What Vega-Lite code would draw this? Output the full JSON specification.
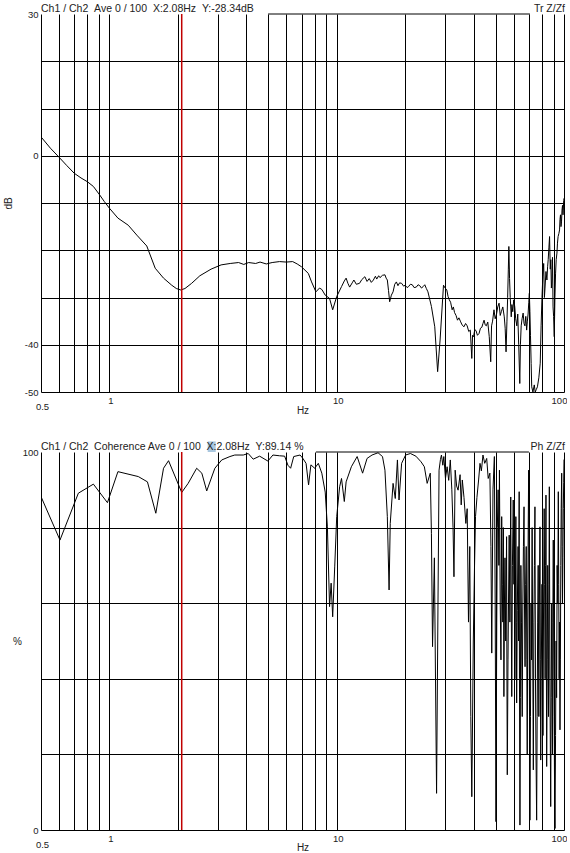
{
  "$schema": "https://vega.github.io/schema/vega-lite/v6.json",
  "padding": {"left": 3, "top": 4, "right": 0, "bottom": 0},
  "bounds": "flush",
  "spacing": 60,
  "config": {
    "view": {"stroke": null},
    "font": "Liberation Sans",
    "axis": {
      "grid": true, "gridColor": "black", "gridWidth": 1, "gridOpacity": 1,
      "ticks": false, "domain": false, "labelOverlap": false, "labelFlush": false,
      "labelFont": "Liberation Sans", "labelFontSize": 9.5, "labelColor": "#222",
      "titleFont": "Liberation Sans", "titleFontSize": 10, "titleFontWeight": "normal", "titleColor": "#222"
    }
  },
  "datasets": {
    "top": [
      {"f": 0.5, "db": 4.0}, {"f": 0.55, "db": 1.6}, {"f": 0.6, "db": -0.3}, {"f": 0.65, "db": -2.1},
      {"f": 0.7, "db": -3.7}, {"f": 0.75, "db": -4.7}, {"f": 0.8, "db": -5.5}, {"f": 0.85, "db": -6.5},
      {"f": 0.9, "db": -8.1}, {"f": 0.95, "db": -9.7}, {"f": 1.0, "db": -11.1}, {"f": 1.09, "db": -13.2},
      {"f": 1.21, "db": -14.7}, {"f": 1.32, "db": -16.8}, {"f": 1.46, "db": -19.1}, {"f": 1.59, "db": -23.8},
      {"f": 1.73, "db": -25.9}, {"f": 1.88, "db": -27.4}, {"f": 1.97, "db": -28.1}, {"f": 2.06, "db": -28.4},
      {"f": 2.15, "db": -28.1}, {"f": 2.3, "db": -27.0}, {"f": 2.5, "db": -25.4}, {"f": 2.8, "db": -24.0},
      {"f": 3.1, "db": -23.1}, {"f": 3.4, "db": -22.8}, {"f": 3.7, "db": -22.6}, {"f": 3.9, "db": -23.0},
      {"f": 4.1, "db": -22.6}, {"f": 4.4, "db": -22.8}, {"f": 4.6, "db": -22.5}, {"f": 4.9, "db": -22.9},
      {"f": 5.2, "db": -22.6}, {"f": 5.6, "db": -22.4}, {"f": 6.0, "db": -22.5}, {"f": 6.4, "db": -22.4},
      {"f": 6.7, "db": -22.9}, {"f": 7.0, "db": -23.5}, {"f": 7.5, "db": -24.9}, {"f": 7.75, "db": -26.7},
      {"f": 8.1, "db": -28.8}, {"f": 8.4, "db": -28.0}, {"f": 8.6, "db": -28.3}, {"f": 8.9, "db": -29.5},
      {"f": 9.3, "db": -30.2}, {"f": 9.6, "db": -32.6}, {"f": 10.0, "db": -29.8}, {"f": 10.5, "db": -27.7},
      {"f": 10.8, "db": -26.5}, {"f": 11.0, "db": -25.9}, {"f": 11.2, "db": -27.0}, {"f": 11.4, "db": -27.8},
      {"f": 11.7, "db": -26.9}, {"f": 11.9, "db": -26.3}, {"f": 12.2, "db": -27.2}, {"f": 12.6, "db": -27.0},
      {"f": 12.9, "db": -26.2}, {"f": 13.3, "db": -25.6}, {"f": 13.6, "db": -26.6}, {"f": 13.9, "db": -26.0},
      {"f": 14.2, "db": -26.8}, {"f": 14.5, "db": -26.3}, {"f": 14.8, "db": -25.5}, {"f": 15.0, "db": -26.1},
      {"f": 15.3, "db": -25.4}, {"f": 15.5, "db": -25.8}, {"f": 15.9, "db": -25.3}, {"f": 16.3, "db": -25.2},
      {"f": 16.5, "db": -25.9}, {"f": 16.7, "db": -26.3}, {"f": 16.9, "db": -28.5}, {"f": 17.1, "db": -30.9},
      {"f": 17.4, "db": -29.5}, {"f": 17.7, "db": -28.8}, {"f": 18.0, "db": -27.2}, {"f": 18.3, "db": -26.7},
      {"f": 18.6, "db": -27.5}, {"f": 18.9, "db": -26.9}, {"f": 19.3, "db": -27.0}, {"f": 19.7, "db": -27.6},
      {"f": 20.0, "db": -27.4}, {"f": 20.4, "db": -27.9}, {"f": 20.7, "db": -27.7}, {"f": 21.1, "db": -27.2},
      {"f": 21.5, "db": -27.3}, {"f": 21.9, "db": -27.9}, {"f": 22.4, "db": -27.8}, {"f": 22.8, "db": -27.3},
      {"f": 23.2, "db": -27.5}, {"f": 23.6, "db": -28.0}, {"f": 24.0, "db": -27.7}, {"f": 24.4, "db": -27.3},
      {"f": 24.8, "db": -28.1}, {"f": 25.2, "db": -28.8}, {"f": 26.1, "db": -31.9}, {"f": 27.0, "db": -36.2},
      {"f": 27.8, "db": -45.7}, {"f": 28.5, "db": -39.0}, {"f": 29.5, "db": -27.4}, {"f": 30.0, "db": -28.0},
      {"f": 30.5, "db": -28.4}, {"f": 30.9, "db": -29.8}, {"f": 31.3, "db": -30.5}, {"f": 31.7, "db": -31.0},
      {"f": 32.2, "db": -32.6}, {"f": 32.6, "db": -32.0}, {"f": 33.0, "db": -33.2}, {"f": 33.5, "db": -33.8},
      {"f": 34.0, "db": -34.8}, {"f": 34.5, "db": -34.3}, {"f": 35.0, "db": -35.0}, {"f": 35.6, "db": -35.8},
      {"f": 36.3, "db": -36.2}, {"f": 36.9, "db": -35.5}, {"f": 37.5, "db": -36.0}, {"f": 38.1, "db": -37.2},
      {"f": 38.7, "db": -36.9}, {"f": 39.3, "db": -42.9}, {"f": 39.6, "db": -38.0}, {"f": 40.0, "db": -38.3},
      {"f": 40.5, "db": -36.8}, {"f": 41.0, "db": -37.0}, {"f": 41.6, "db": -38.0}, {"f": 42.3, "db": -37.6},
      {"f": 42.9, "db": -36.5}, {"f": 43.5, "db": -36.3}, {"f": 44.0, "db": -35.5}, {"f": 44.5, "db": -34.8},
      {"f": 45.0, "db": -35.8}, {"f": 45.5, "db": -36.0}, {"f": 46.2, "db": -35.2}, {"f": 46.9, "db": -38.3},
      {"f": 47.6, "db": -43.6}, {"f": 48.0, "db": -36.0}, {"f": 48.5, "db": -35.0}, {"f": 49.2, "db": -32.6},
      {"f": 49.8, "db": -34.5}, {"f": 50.5, "db": -33.5}, {"f": 51.1, "db": -32.0}, {"f": 51.8, "db": -31.2},
      {"f": 52.4, "db": -33.8}, {"f": 53.0, "db": -33.0}, {"f": 53.8, "db": -32.0}, {"f": 54.6, "db": -34.1},
      {"f": 55.1, "db": -36.5}, {"f": 55.6, "db": -41.5}, {"f": 56.1, "db": -35.0}, {"f": 56.5, "db": -30.0},
      {"f": 56.9, "db": -24.0}, {"f": 57.2, "db": -19.2}, {"f": 57.6, "db": -26.0}, {"f": 58.0, "db": -30.0},
      {"f": 58.3, "db": -32.0}, {"f": 58.6, "db": -34.1}, {"f": 59.0, "db": -31.5}, {"f": 59.5, "db": -33.0},
      {"f": 60.1, "db": -30.5}, {"f": 60.7, "db": -31.9}, {"f": 61.3, "db": -34.5}, {"f": 62.0, "db": -36.0},
      {"f": 62.6, "db": -33.5}, {"f": 63.2, "db": -40.0}, {"f": 63.9, "db": -48.2}, {"f": 64.3, "db": -40.0},
      {"f": 64.8, "db": -36.0}, {"f": 65.4, "db": -34.5}, {"f": 66.1, "db": -33.3}, {"f": 66.7, "db": -35.5},
      {"f": 67.3, "db": -36.0}, {"f": 67.9, "db": -34.0}, {"f": 68.5, "db": -36.9}, {"f": 69.0, "db": -35.0},
      {"f": 69.5, "db": -33.5}, {"f": 70.0, "db": -31.0}, {"f": 70.4, "db": -29.1}, {"f": 70.8, "db": -33.0},
      {"f": 71.2, "db": -38.0}, {"f": 71.7, "db": -44.0}, {"f": 72.1, "db": -48.9}, {"f": 73.0, "db": -50.0},
      {"f": 74.0, "db": -48.5}, {"f": 74.7, "db": -50.0}, {"f": 75.5, "db": -49.5}, {"f": 76.4, "db": -48.9},
      {"f": 77.5, "db": -47.0}, {"f": 78.6, "db": -43.9}, {"f": 79.3, "db": -36.0}, {"f": 80.0, "db": -30.0},
      {"f": 80.7, "db": -25.5}, {"f": 81.4, "db": -22.8}, {"f": 82.0, "db": -30.0}, {"f": 82.5, "db": -28.0},
      {"f": 83.3, "db": -24.5}, {"f": 84.1, "db": -26.3}, {"f": 84.7, "db": -23.5}, {"f": 85.2, "db": -22.0},
      {"f": 85.8, "db": -19.5}, {"f": 86.4, "db": -17.1}, {"f": 87.0, "db": -24.0}, {"f": 87.5, "db": -22.0},
      {"f": 88.0, "db": -28.0}, {"f": 88.5, "db": -26.3}, {"f": 89.0, "db": -21.5}, {"f": 89.5, "db": -32.0},
      {"f": 90.0, "db": -34.0}, {"f": 90.6, "db": -38.3}, {"f": 91.2, "db": -30.0}, {"f": 91.8, "db": -25.0},
      {"f": 92.4, "db": -22.0}, {"f": 93.1, "db": -20.6}, {"f": 93.6, "db": -18.5}, {"f": 94.2, "db": -17.1},
      {"f": 94.9, "db": -16.5}, {"f": 95.6, "db": -15.7}, {"f": 96.0, "db": -13.5}, {"f": 96.5, "db": -12.5},
      {"f": 97.0, "db": -15.0}, {"f": 97.5, "db": -14.0}, {"f": 98.0, "db": -11.5}, {"f": 98.5, "db": -10.5},
      {"f": 99.0, "db": -12.5}, {"f": 99.3, "db": -11.5}, {"f": 99.7, "db": -9.5}, {"f": 100, "db": -9.0}
    ],
    "bottom": [
      {"f": 0.5, "pct": 88.2}, {"f": 0.606, "pct": 76.7}, {"f": 0.73, "pct": 89.1}, {"f": 0.85, "pct": 91.5},
      {"f": 0.98, "pct": 86.6}, {"f": 1.09, "pct": 94.8}, {"f": 1.34, "pct": 93.5}, {"f": 1.47, "pct": 92.1},
      {"f": 1.6, "pct": 83.8}, {"f": 1.73, "pct": 95.7}, {"f": 1.82, "pct": 97.7}, {"f": 2.08, "pct": 89.3},
      {"f": 2.22, "pct": 91.7}, {"f": 2.42, "pct": 95.7}, {"f": 2.55, "pct": 94.4}, {"f": 2.68, "pct": 89.7},
      {"f": 2.91, "pct": 95.7}, {"f": 3.12, "pct": 97.9}, {"f": 3.39, "pct": 98.8}, {"f": 3.56, "pct": 99.2},
      {"f": 3.88, "pct": 99.2}, {"f": 4.08, "pct": 99.6}, {"f": 4.29, "pct": 98.1}, {"f": 4.58, "pct": 98.9},
      {"f": 4.98, "pct": 97.6}, {"f": 5.24, "pct": 99.2}, {"f": 5.6, "pct": 99.0}, {"f": 5.9, "pct": 98.9},
      {"f": 6.1, "pct": 96.5}, {"f": 6.27, "pct": 95.7}, {"f": 6.47, "pct": 98.8}, {"f": 6.9, "pct": 99.2},
      {"f": 7.1, "pct": 98.3}, {"f": 7.33, "pct": 97.0}, {"f": 7.52, "pct": 91.3}, {"f": 7.7, "pct": 96.6},
      {"f": 8.0, "pct": 95.7}, {"f": 8.3, "pct": 97.0}, {"f": 8.6, "pct": 94.4}, {"f": 8.9, "pct": 89.4},
      {"f": 9.1, "pct": 80.2}, {"f": 9.3, "pct": 59.1}, {"f": 9.45, "pct": 65.3}, {"f": 9.6, "pct": 56.4},
      {"f": 9.8, "pct": 69.6}, {"f": 10.0, "pct": 82.9}, {"f": 10.3, "pct": 90.8}, {"f": 10.5, "pct": 93.0},
      {"f": 10.8, "pct": 86.9}, {"f": 11.0, "pct": 92.1}, {"f": 11.6, "pct": 96.1}, {"f": 12.3, "pct": 98.8},
      {"f": 13.0, "pct": 94.4}, {"f": 13.6, "pct": 98.3}, {"f": 14.3, "pct": 99.2}, {"f": 15.2, "pct": 99.8},
      {"f": 15.9, "pct": 98.8}, {"f": 16.3, "pct": 95.2}, {"f": 16.7, "pct": 82.9}, {"f": 17.0, "pct": 63.5},
      {"f": 17.2, "pct": 81.1}, {"f": 17.7, "pct": 91.7}, {"f": 18.1, "pct": 87.7}, {"f": 18.5, "pct": 97.9},
      {"f": 18.8, "pct": 87.3}, {"f": 19.3, "pct": 97.0}, {"f": 20.1, "pct": 99.2}, {"f": 21.1, "pct": 99.6},
      {"f": 22.3, "pct": 98.9}, {"f": 23.5, "pct": 97.4}, {"f": 24.3, "pct": 96.1}, {"f": 25.0, "pct": 91.7},
      {"f": 25.8, "pct": 94.4}, {"f": 26.1, "pct": 78.5}, {"f": 26.4, "pct": 48.5}, {"f": 26.9, "pct": 72.0},
      {"f": 27.5, "pct": 9.7}, {"f": 27.9, "pct": 60.0}, {"f": 28.2, "pct": 95.2}, {"f": 28.6, "pct": 98.0},
      {"f": 28.9, "pct": 99.2}, {"f": 29.3, "pct": 96.5}, {"f": 29.6, "pct": 98.8}, {"f": 30.1, "pct": 93.0},
      {"f": 30.6, "pct": 96.1}, {"f": 31.1, "pct": 92.5}, {"f": 31.6, "pct": 97.9}, {"f": 32.1, "pct": 90.0},
      {"f": 32.5, "pct": 80.0}, {"f": 32.8, "pct": 67.0}, {"f": 33.2, "pct": 95.2}, {"f": 33.7, "pct": 91.0},
      {"f": 34.2, "pct": 89.9}, {"f": 34.9, "pct": 94.0}, {"f": 35.3, "pct": 86.0}, {"f": 35.7, "pct": 92.6},
      {"f": 36.3, "pct": 88.0}, {"f": 37.0, "pct": 81.1}, {"f": 37.5, "pct": 85.0}, {"f": 38.0, "pct": 55.0},
      {"f": 38.5, "pct": 75.0}, {"f": 38.9, "pct": 30.0}, {"f": 39.3, "pct": 8.8}, {"f": 39.9, "pct": 50.0},
      {"f": 40.4, "pct": 70.0}, {"f": 40.8, "pct": 82.9}, {"f": 41.4, "pct": 88.0}, {"f": 42.1, "pct": 92.6},
      {"f": 42.7, "pct": 97.0}, {"f": 43.3, "pct": 95.0}, {"f": 44.0, "pct": 99.2}, {"f": 44.8, "pct": 97.0},
      {"f": 45.7, "pct": 98.3}, {"f": 46.4, "pct": 93.0}, {"f": 47.2, "pct": 94.4}, {"f": 47.7, "pct": 75.0},
      {"f": 48.1, "pct": 46.8}, {"f": 48.7, "pct": 90.0}, {"f": 49.4, "pct": 98.8}, {"f": 49.8, "pct": 60.0},
      {"f": 50.2, "pct": 2.2}, {"f": 50.6, "pct": 55.0}, {"f": 50.9, "pct": 80.0}, {"f": 51.3, "pct": 90.0},
      {"f": 51.7, "pct": 70.0}, {"f": 52.0, "pct": 95.2}, {"f": 52.4, "pct": 60.0}, {"f": 52.8, "pct": 45.0},
      {"f": 53.2, "pct": 82.9}, {"f": 53.5, "pct": 65.0}, {"f": 53.8, "pct": 55.0}, {"f": 54.1, "pct": 80.0},
      {"f": 54.4, "pct": 35.3}, {"f": 54.7, "pct": 60.0}, {"f": 55.0, "pct": 72.0}, {"f": 55.4, "pct": 50.0},
      {"f": 55.9, "pct": 77.6}, {"f": 56.1, "pct": 40.0}, {"f": 56.3, "pct": 14.6}, {"f": 56.7, "pct": 45.0},
      {"f": 57.0, "pct": 60.0}, {"f": 57.4, "pct": 78.0}, {"f": 57.8, "pct": 55.0}, {"f": 58.3, "pct": 88.1},
      {"f": 58.6, "pct": 60.0}, {"f": 58.9, "pct": 35.3}, {"f": 59.3, "pct": 70.0}, {"f": 59.8, "pct": 87.3},
      {"f": 60.2, "pct": 65.0}, {"f": 60.5, "pct": 78.0}, {"f": 60.8, "pct": 40.0}, {"f": 61.1, "pct": 60.0},
      {"f": 61.4, "pct": 82.9}, {"f": 61.7, "pct": 55.0}, {"f": 61.9, "pct": 33.6}, {"f": 62.3, "pct": 58.0},
      {"f": 62.8, "pct": 75.0}, {"f": 63.1, "pct": 50.0}, {"f": 63.5, "pct": 89.5}, {"f": 63.7, "pct": 40.0},
      {"f": 64.0, "pct": 1.3}, {"f": 64.3, "pct": 35.0}, {"f": 64.6, "pct": 70.0}, {"f": 65.0, "pct": 55.0},
      {"f": 65.5, "pct": 30.0}, {"f": 65.9, "pct": 60.0}, {"f": 66.3, "pct": 75.0}, {"f": 66.7, "pct": 85.5},
      {"f": 67.0, "pct": 60.0}, {"f": 67.4, "pct": 43.2}, {"f": 67.8, "pct": 65.0}, {"f": 68.2, "pct": 75.0},
      {"f": 68.6, "pct": 45.0}, {"f": 68.9, "pct": 20.0}, {"f": 69.3, "pct": 60.0}, {"f": 69.6, "pct": 80.0},
      {"f": 69.9, "pct": 95.2}, {"f": 70.3, "pct": 50.0}, {"f": 70.8, "pct": 2.6}, {"f": 71.2, "pct": 30.0},
      {"f": 71.6, "pct": 60.0}, {"f": 72.0, "pct": 45.0}, {"f": 72.4, "pct": 80.0}, {"f": 72.8, "pct": 50.0},
      {"f": 73.3, "pct": 15.9}, {"f": 73.7, "pct": 55.0}, {"f": 74.1, "pct": 70.0}, {"f": 74.5, "pct": 85.5},
      {"f": 74.9, "pct": 40.0}, {"f": 75.3, "pct": 20.0}, {"f": 75.8, "pct": 2.6}, {"f": 76.2, "pct": 30.0},
      {"f": 76.6, "pct": 55.0}, {"f": 77.0, "pct": 70.0}, {"f": 77.5, "pct": 30.0}, {"f": 77.9, "pct": 60.0},
      {"f": 78.4, "pct": 80.2}, {"f": 78.7, "pct": 45.0}, {"f": 79.0, "pct": 18.5}, {"f": 79.4, "pct": 40.0},
      {"f": 80.0, "pct": 65.0}, {"f": 80.4, "pct": 45.0}, {"f": 80.8, "pct": 25.0}, {"f": 81.3, "pct": 60.0},
      {"f": 81.8, "pct": 85.0}, {"f": 82.2, "pct": 65.0}, {"f": 82.6, "pct": 40.0}, {"f": 83.0, "pct": 70.0},
      {"f": 83.3, "pct": 88.6}, {"f": 83.6, "pct": 50.0}, {"f": 83.9, "pct": 16.8}, {"f": 84.4, "pct": 45.0},
      {"f": 84.8, "pct": 70.0}, {"f": 85.2, "pct": 50.0}, {"f": 85.5, "pct": 30.0}, {"f": 85.9, "pct": 65.0},
      {"f": 86.2, "pct": 90.8}, {"f": 86.7, "pct": 40.0}, {"f": 87.4, "pct": 6.2}, {"f": 87.8, "pct": 35.0},
      {"f": 88.3, "pct": 60.0}, {"f": 88.6, "pct": 40.0}, {"f": 89.0, "pct": 20.0}, {"f": 89.3, "pct": 55.0},
      {"f": 89.7, "pct": 76.7}, {"f": 90.1, "pct": 50.0}, {"f": 90.5, "pct": 30.0}, {"f": 90.9, "pct": 10.0},
      {"f": 91.3, "pct": 0.4}, {"f": 91.8, "pct": 25.0}, {"f": 92.3, "pct": 50.0}, {"f": 92.8, "pct": 35.0},
      {"f": 93.3, "pct": 70.0}, {"f": 93.9, "pct": 60.0}, {"f": 94.4, "pct": 89.5}, {"f": 94.8, "pct": 65.0},
      {"f": 95.2, "pct": 40.0}, {"f": 95.6, "pct": 55.0}, {"f": 96.0, "pct": 26.5}, {"f": 96.4, "pct": 45.0},
      {"f": 96.8, "pct": 70.0}, {"f": 97.2, "pct": 85.0}, {"f": 97.7, "pct": 94.4}, {"f": 98.1, "pct": 75.0},
      {"f": 98.5, "pct": 60.0}, {"f": 98.9, "pct": 72.0}, {"f": 99.3, "pct": 85.0}, {"f": 99.7, "pct": 92.0},
      {"f": 100, "pct": 98.0}
    ]
  },
  "vconcat": [
    {
      "width": 523,
      "height": 378,
      "layer": [
        {
          "data": {"name": "top"},
          "mark": {"type": "line", "color": "black", "strokeWidth": 1, "clip": true},
          "encoding": {
            "x": {
              "field": "f", "type": "quantitative",
              "scale": {"type": "log", "domain": [0.5, 100], "nice": false},
              "axis": {
                "values": [0.5, 0.6, 0.7, 0.8, 0.9, 1, 2, 3, 4, 5, 6, 7, 8, 9, 10, 20, 30, 40, 50, 60, 70, 80, 90, 100],
                "labelExpr": "datum.value == 0.5 ? '0.5' : datum.value == 1 ? '1' : datum.value == 10 ? '10' : datum.value == 100 ? '100' : ''",
                "labelPadding": {"condition": {"test": "datum.value == 0.5", "value": 9}, "value": 3},
                "labelOffset": {"condition": {"test": "datum.value == 100", "value": -5}, "value": 1},
                "title": "Hz", "titleY": 18, "titleBaseline": "middle"
              }
            },
            "y": {
              "field": "db", "type": "quantitative",
              "scale": {"domain": [-50, 30], "nice": false, "zero": false},
              "axis": {
                "values": [-50, -40, -30, -20, -10, 0, 10, 20, 30],
                "labelExpr": "datum.value == 30 ? '30' : datum.value == 0 ? '0' : datum.value == -40 ? '-40' : datum.value == -50 ? '-50' : ''",
                "labelPadding": 3,
                "gridOpacity": {"condition": {"test": "datum.value == 30", "value": 0}, "value": 1},
                "title": "dB", "titleAngle": -90, "titleX": -33, "titleY": 189, "titleAlign": "center", "titleBaseline": "middle"
              }
            }
          }
        },
        {
          "data": {"values": [{}]},
          "mark": {"type": "rule", "color": "#c00000", "strokeWidth": 1.5},
          "encoding": {"x": {"datum": 2.08, "type": "quantitative"}}
        },
        {
          "data": {"values": [{}]},
          "mark": {"type": "rule", "color": "black", "strokeWidth": 1},
          "encoding": {"x": {"datum": 4.99, "type": "quantitative"}, "x2": {"datum": 70.8}, "y": {"datum": 30, "type": "quantitative"}}
        },
        {
          "data": {"values": [{}]},
          "mark": {"type": "text", "align": "left", "baseline": "alphabetic", "dy": -2, "fontSize": 10.5, "color": "#222", "font": "Liberation Sans"},
          "encoding": {"x": {"datum": 0.5, "type": "quantitative"}, "y": {"datum": 30, "type": "quantitative"}, "text": {"value": "Ch1 / Ch2\u00a0\u00a0Ave 0 / 100\u00a0\u00a0X:2.08Hz\u00a0\u00a0Y:-28.34dB"}}
        },
        {
          "data": {"values": [{}]},
          "mark": {"type": "text", "align": "right", "baseline": "alphabetic", "dy": -2, "dx": 1, "fontSize": 10.5, "color": "#222", "font": "Liberation Sans"},
          "encoding": {"x": {"datum": 100, "type": "quantitative"}, "y": {"datum": 30, "type": "quantitative"}, "text": {"value": "Tr Z/Zf"}}
        }
      ]
    },
    {
      "width": 523,
      "height": 378,
      "layer": [
        {
          "data": {"name": "bottom"},
          "mark": {"type": "line", "color": "black", "strokeWidth": 1, "clip": true},
          "encoding": {
            "x": {
              "field": "f", "type": "quantitative",
              "scale": {"type": "log", "domain": [0.5, 100], "nice": false},
              "axis": {
                "values": [0.5, 0.6, 0.7, 0.8, 0.9, 1, 2, 3, 4, 5, 6, 7, 8, 9, 10, 20, 30, 40, 50, 60, 70, 80, 90, 100],
                "labelExpr": "datum.value == 0.5 ? '0.5' : datum.value == 1 ? '1' : datum.value == 10 ? '10' : datum.value == 100 ? '100' : ''",
                "labelPadding": {"condition": {"test": "datum.value == 0.5", "value": 9}, "value": 3},
                "labelOffset": {"condition": {"test": "datum.value == 100", "value": -5}, "value": 1},
                "title": "Hz", "titleY": 17, "titleBaseline": "middle"
              }
            },
            "y": {
              "field": "pct", "type": "quantitative",
              "scale": {"domain": [0, 100], "nice": false, "zero": false},
              "axis": {
                "values": [0, 20, 40, 60, 80, 100],
                "labelExpr": "datum.value == 100 ? '100' : datum.value == 0 ? '0' : ''",
                "labelPadding": 3,
                "gridOpacity": {"condition": {"test": "datum.value == 100", "value": 0}, "value": 1},
                "title": "%", "titleAngle": 0, "titleX": -24, "titleY": 189, "titleAlign": "center", "titleBaseline": "middle"
              }
            }
          }
        },
        {
          "data": {"values": [{}]},
          "mark": {"type": "rule", "color": "#c00000", "strokeWidth": 1.5},
          "encoding": {"x": {"datum": 2.08, "type": "quantitative"}}
        },
        {
          "data": {"values": [{}]},
          "mark": {"type": "rule", "color": "black", "strokeWidth": 1},
          "encoding": {"x": {"datum": 8.1, "type": "quantitative"}, "x2": {"datum": 70.1}, "y": {"datum": 100, "type": "quantitative"}}
        },
        {
          "data": {"values": [{}]},
          "mark": {"type": "rect", "color": "#a9c7df", "clip": false},
          "encoding": {"x": {"datum": 2.706, "type": "quantitative"}, "x2": {"datum": 2.935}, "y": {"datum": 100, "type": "quantitative"}, "y2": {"datum": 102.8}}
        },
        {
          "data": {"values": [{}]},
          "mark": {"type": "text", "align": "left", "baseline": "alphabetic", "dy": -2, "fontSize": 10.5, "color": "#222", "font": "Liberation Sans"},
          "encoding": {"x": {"datum": 0.5, "type": "quantitative"}, "y": {"datum": 100, "type": "quantitative"}, "text": {"value": "Ch1 / Ch2\u00a0\u00a0Coherence Ave 0 / 100\u00a0\u00a0X:2.08Hz\u00a0\u00a0Y:89.14 %"}}
        },
        {
          "data": {"values": [{}]},
          "mark": {"type": "text", "align": "right", "baseline": "alphabetic", "dy": -2, "dx": 1, "fontSize": 10.5, "color": "#222", "font": "Liberation Sans"},
          "encoding": {"x": {"datum": 100, "type": "quantitative"}, "y": {"datum": 100, "type": "quantitative"}, "text": {"value": "Ph Z/Zf"}}
        }
      ]
    }
  ]
}
